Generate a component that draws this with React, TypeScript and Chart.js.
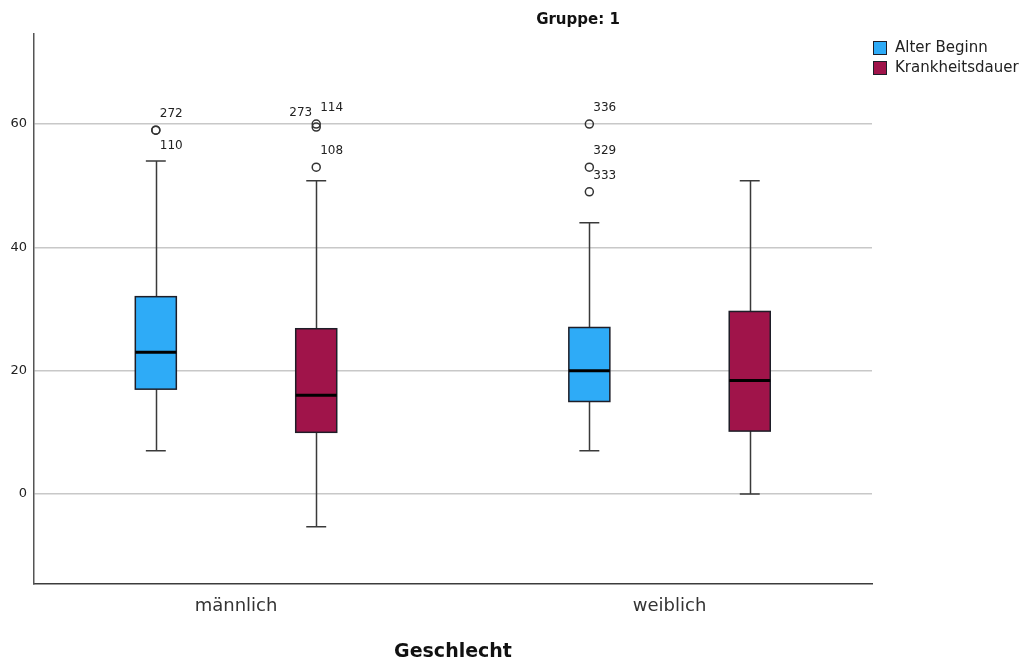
import React, { useEffect, useRef } from 'react';
import { Chart, registerables } from 'chart.js';

Chart.register(...registerables);

// ---------- data ----------
const categories = ['männlich', 'weiblich'];
const seriesNames = ['Alter Beginn', 'Krankheitsdauer'];
const seriesColors = ['#2eabf7', '#a0144a'];

const alterMin = [7, 7];
const alterQ1 = [17, 15];
const alterMedian = [23, 20];
const alterQ3 = [32, 27];
const alterMax = [54, 44];

const dauerMin = [-5.3, 0];
const dauerQ1 = [10, 10.2];
const dauerMedian = [16, 18.4];
const dauerQ3 = [26.8, 29.6];
const dauerMax = [50.8, 50.8];

const alterOutlierCat = [0, 0, 1, 1, 1];
const alterOutlierValue = [59, 59, 60, 53, 49];
const alterOutlierLabel = ['272', '110', '336', '329', '333'];

const dauerOutlierCat = [0, 0, 0];
const dauerOutlierValue = [59.5, 60, 53];
const dauerOutlierLabel = ['273', '114', '108'];

const yTicks = [0, 20, 40, 60];

// ---------- style ----------
const FONT = "'DejaVu Sans', 'Liberation Sans', Arial, sans-serif";
const SERIES_OFFSET = [-0.185, 0.185];
const BOX_HALF = 0.0473;
const CAP_HALF = 0.023;
const LABEL_ANCHOR: Record<string, string> = { '110': 'se', '273': 'nw' };

const boxStats = [
  { min: alterMin, q1: alterQ1, med: alterMedian, q3: alterQ3, max: alterMax },
  { min: dauerMin, q1: dauerQ1, med: dauerMedian, q3: dauerQ3, max: dauerMax },
];

const outlierSets = [
  { cat: alterOutlierCat, value: alterOutlierValue, label: alterOutlierLabel },
  { cat: dauerOutlierCat, value: dauerOutlierValue, label: dauerOutlierLabel },
];

const boxPlugin = {
  id: 'boxes',
  beforeDatasetsDraw(chart: any) {
    const { ctx, scales } = chart;
    const xs = scales.x;
    const ys = scales.y;
    ctx.save();
    boxStats.forEach((s, si) => {
      categories.forEach((_, i) => {
        const c = i + SERIES_OFFSET[si];
        const cx = Math.round(xs.getPixelForValue(c)) + 0.5;
        const l = xs.getPixelForValue(c - BOX_HALF);
        const r = xs.getPixelForValue(c + BOX_HALF);
        const cl = xs.getPixelForValue(c - CAP_HALF);
        const cr = xs.getPixelForValue(c + CAP_HALF);
        const yMin = ys.getPixelForValue(s.min[i]);
        const yMax = ys.getPixelForValue(s.max[i]);
        const yQ1 = ys.getPixelForValue(s.q1[i]);
        const yQ3 = ys.getPixelForValue(s.q3[i]);
        const yMed = ys.getPixelForValue(s.med[i]);
        // whiskers
        ctx.strokeStyle = '#3a3a3a';
        ctx.lineWidth = 1.5;
        ctx.beginPath();
        ctx.moveTo(cx, yMax);
        ctx.lineTo(cx, yQ3);
        ctx.moveTo(cx, yQ1);
        ctx.lineTo(cx, yMin);
        ctx.moveTo(cl, yMax);
        ctx.lineTo(cr, yMax);
        ctx.moveTo(cl, yMin);
        ctx.lineTo(cr, yMin);
        ctx.stroke();
        // box
        ctx.fillStyle = seriesColors[si];
        ctx.fillRect(l, yQ3, r - l, yQ1 - yQ3);
        ctx.strokeStyle = '#1e1e28';
        ctx.lineWidth = 1.5;
        ctx.strokeRect(l, yQ3, r - l, yQ1 - yQ3);
        // median
        ctx.strokeStyle = '#000';
        ctx.lineWidth = 3;
        ctx.beginPath();
        ctx.moveTo(l, yMed);
        ctx.lineTo(r, yMed);
        ctx.stroke();
      });
    });
    ctx.restore();
  },
  afterDatasetsDraw(chart: any) {
    const { ctx, scales } = chart;
    const xs = scales.x;
    const ys = scales.y;
    ctx.save();
    ctx.font = `12px ${FONT}`;
    ctx.fillStyle = '#222';
    ctx.textBaseline = 'middle';
    outlierSets.forEach((o, si) => {
      o.value.forEach((v, k) => {
        const px = xs.getPixelForValue(o.cat[k] + SERIES_OFFSET[si]);
        const py = ys.getPixelForValue(v);
        const a = LABEL_ANCHOR[o.label[k]] || 'ne';
        if (a === 'ne') {
          ctx.textAlign = 'left';
          ctx.fillText(o.label[k], px + 4, py - 16);
        } else if (a === 'se') {
          ctx.textAlign = 'left';
          ctx.fillText(o.label[k], px + 4, py + 16);
        } else {
          ctx.textAlign = 'right';
          ctx.fillText(o.label[k], px - 4, py - 14);
        }
      });
    });
    ctx.restore();
  },
  afterDraw(chart: any) {
    const { ctx, chartArea } = chart;
    ctx.save();
    // title
    ctx.fillStyle = '#111';
    ctx.font = `bold 15px ${FONT}`;
    ctx.textAlign = 'center';
    ctx.textBaseline = 'alphabetic';
    ctx.fillText('Gruppe: 1', 578, 24);
    // x-axis title
    ctx.font = `bold 19px ${FONT}`;
    ctx.fillText('Geschlecht', (chartArea.left + chartArea.right) / 2, 657);
    // legend
    ctx.font = `15px ${FONT}`;
    ctx.textAlign = 'left';
    ctx.textBaseline = 'middle';
    seriesNames.forEach((name, i) => {
      const top = 41 + i * 20;
      ctx.fillStyle = seriesColors[i];
      ctx.fillRect(873, top, 14, 14);
      ctx.strokeStyle = '#1e1e28';
      ctx.lineWidth = 1;
      ctx.strokeRect(873.5, top + 0.5, 13, 13);
      ctx.fillStyle = '#222';
      ctx.fillText(name, 895, top + 7);
    });
    ctx.restore();
  },
};

export default function App() {
  const ref = useRef<HTMLCanvasElement>(null);

  useEffect(() => {
    if (!ref.current) return;
    Chart.defaults.font.family = FONT;
    const datasets = outlierSets.map((o, si) => ({
      type: 'scatter' as const,
      label: seriesNames[si],
      data: o.value.map((v, k) => ({ x: o.cat[k] + SERIES_OFFSET[si], y: v })),
      pointRadius: 4,
      pointHoverRadius: 4,
      pointBorderWidth: 1.5,
      pointBorderColor: '#333',
      pointBackgroundColor: 'rgba(0,0,0,0)',
      showLine: false,
    }));
    const chart = new Chart(ref.current, {
      type: 'scatter',
      data: { datasets },
      plugins: [boxPlugin],
      options: {
        animation: false,
        responsive: false,
        layout: { padding: { top: 34, right: 158, left: 0, bottom: 0 } },
        plugins: {
          legend: { display: false },
          tooltip: { enabled: false },
          title: { display: false },
        },
        scales: {
          x: {
            type: 'linear',
            min: -0.466,
            max: 1.467,
            afterBuildTicks: (scale: any) => {
              scale.ticks = categories.map((_, i) => ({ value: i }));
            },
            afterFit: (scale: any) => {
              scale.height = 78;
            },
            ticks: {
              callback: (v: any) => categories[v] ?? '',
              font: { size: 18 },
              color: '#333',
              padding: 12,
              maxRotation: 0,
              autoSkip: false,
            },
            grid: { display: false, drawTicks: false },
            border: { display: true, color: '#3c3c3c', width: 1.5 },
          },
          y: {
            type: 'linear',
            min: -14.6,
            max: 74.6,
            afterBuildTicks: (scale: any) => {
              scale.ticks = yTicks.map((v) => ({ value: v }));
            },
            afterFit: (scale: any) => {
              scale.width = 34;
            },
            ticks: {
              font: { size: 13 },
              color: '#222',
              padding: 7,
            },
            grid: { color: '#c8c8c8', lineWidth: 1.5, drawTicks: false },
            border: { display: true, color: '#555', width: 1.5 },
          },
        },
      },
    });
    return () => chart.destroy();
  }, []);

  return (
    <div style={{ position: 'absolute', left: 0, top: 0, width: 1030, height: 662, background: '#fff' }}>
      <canvas ref={ref} width={1030} height={662} style={{ display: 'block' }} />
    </div>
  );
}
